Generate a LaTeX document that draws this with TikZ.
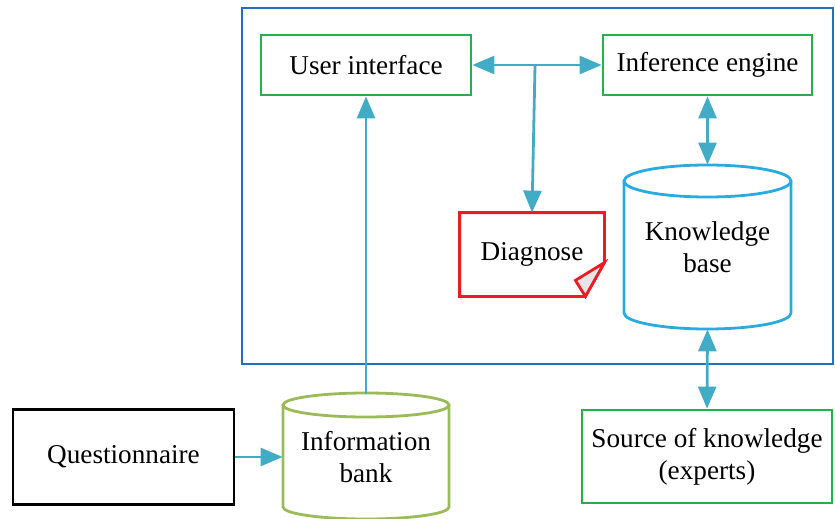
\documentclass[tikz,border=0pt]{standalone}
\usepackage{fontspec}
\setmainfont{Liberation Serif}
\usetikzlibrary{arrows.meta,calc}
\definecolor{frameblue}{HTML}{1F70BE}
\definecolor{boxgreen}{HTML}{22B14C}
\definecolor{diagred}{HTML}{ED1C24}
\definecolor{kbblue}{HTML}{29ABE2}
\definecolor{bankgreen}{HTML}{9BBB59}
\definecolor{arrowblue}{HTML}{42ACC6}
\tikzset{
  box/.style={draw=boxgreen, line width=1.4pt, align=center, inner sep=0pt},
  plain/.style={align=center, inner sep=0pt},
  link/.style={draw=arrowblue, line width=1.4pt, -{Triangle[length=11pt,width=9pt]}},
  twolink/.style={link, {Triangle[length=11pt,width=9pt]}-{Triangle[length=11pt,width=9pt]}}
}
\begin{document}
\begin{tikzpicture}[x=0.5pt, y=-0.5pt, font=\fontsize{13.6}{16}\selectfont]
        \useasboundingbox (0,0) rectangle (835,519);
        \draw[frameblue, line width=1.4pt] (242,8) rectangle (833,364);
        \node[box, minimum width=105pt, minimum height=30pt] (ui) at (366,65) {User interface};
        \node[box, minimum width=104.5pt, minimum height=30pt] (ie) at (707.5,65) {Inference engine};
        \node[plain, minimum width=72pt, minimum height=41.5pt] (diag) at (532,254.5) {Diagnose};
        \node[plain, minimum width=83.5pt, minimum height=82pt] (kb) at (707.5,247) {Knowledge\\base};
        \node[box, minimum width=125pt, minimum height=46.5pt] (src) at (707,456.5) {Source of knowledge\\(experts)};
        \node[draw=black, line width=1.4pt, minimum width=110.5pt, minimum height=47.5pt] (q) at (123.5,457) {Questionnaire};
        \node[plain, minimum width=83pt, minimum height=63pt] (ib) at (366,457) {Information\\bank};
        \coordinate (br) at (535,66);
        % diagnose sheet with folded corner
        \draw[diagred, line width=1.4pt] (diag.north west) -- (diag.north east) -- ($(diag.north east)+(0,50)$)
            -- ($(diag.south east)+(-19,0)$) -- (diag.south west) -- cycle;
        \draw[diagred, line width=1.4pt, fill=gray!20] ($(diag.north east)+(0,50)$) -- ($(diag.south east)+(-29,-16)$)
            -- ($(diag.south east)+(-19,0)$) -- cycle;
        % cylinders
        \draw[kbblue, line width=1.4pt] (624,181) -- (624,313) arc[start angle=180, end angle=0, x radius=83.5, y radius=16] -- (791,181);
        \draw[kbblue, line width=1.4pt] (707.5,181) ellipse[x radius=83.5, y radius=16];
        \draw[bankgreen, line width=1.4pt] (283,405) -- (283,507) arc[start angle=180, end angle=0, x radius=83, y radius=12] -- (449,405);
        \draw[bankgreen, line width=1.4pt] (366,405) ellipse[x radius=83, y radius=12];
        % connectors
        \draw[twolink] (ui.east) -- (ie.west);
        \draw[link] (br) -- (diag.north);
        \draw[twolink] (ie.south) -- (kb.north);
        \draw[twolink] (kb.south) -- (src.north);
        \draw[link] (q.east) -- (ib.west);
        \draw[link] (ib.north) -- (ui.south);
    \end{tikzpicture}
\end{document}
